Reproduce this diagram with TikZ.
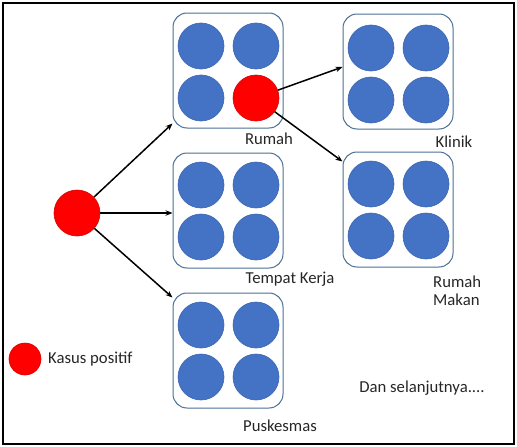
\documentclass[tikz,border=0pt]{standalone}
\usepackage{fontspec}
\setmainfont{Carlito}
\usetikzlibrary{arrows.meta}
\definecolor{cblue}{HTML}{4472C4}
\definecolor{cblueline}{HTML}{3A65B0}
\definecolor{boxline}{HTML}{4A6E94}
\definecolor{cred}{HTML}{FF0000}
\tikzset{
  person/.style={circle,fill=cblue,draw=cblueline,line width=0.6pt,minimum size=46pt,inner sep=0pt},
  infected/.style={circle,fill=cred,draw=red!85!black,line width=0.6pt,minimum size=46pt,inner sep=0pt},
  place/.style={draw=boxline,line width=1pt,rounded corners=14pt,minimum width=110pt,minimum height=115pt,inner sep=0pt},
  lbl/.style={font=\fontsize{16.7}{18}\selectfont,inner sep=0pt,text=black!85},
  spread/.style={line width=1.5pt,-{Stealth[length=7pt,width=5.5pt]}}
}
\begin{document}
\begin{tikzpicture}[x=1pt,y=-1pt]
\useasboundingbox (0,0) rectangle (517,447);
\draw[line width=1.6pt] (3,3) rectangle (514,444);
% boxes
\node[place] (rumah) at (228,70.5) {};
\node[place] (klinik) at (398,71.5) {};
\node[place] (kerja) at (228,210.5) {};
\node[place] (makan) at (398,209.5) {};
\node[place] (pusk) at (228,350.5) {};
% people in Rumah
\node[person] (r1) at (201,46) {};
\node[person] (r2) at (256,46) {};
\node[person] (r3) at (201,98) {};
\node[infected] (r4) at (256,98) {};
% Klinik
\node[person] (k1) at (371,48) {};
\node[person] (k2) at (426,48) {};
\node[person] (k3) at (371,100) {};
\node[person] (k4) at (426,100) {};
% Tempat Kerja
\node[person] (t1) at (201,185) {};
\node[person] (t2) at (256,185) {};
\node[person] (t3) at (201,237) {};
\node[person] (t4) at (256,237) {};
% Rumah Makan
\node[person] (m1) at (371,184) {};
\node[person] (m2) at (426,184) {};
\node[person] (m3) at (371,236) {};
\node[person] (m4) at (426,236) {};
% Puskesmas
\node[person] (p1) at (201,325) {};
\node[person] (p2) at (256,325) {};
\node[person] (p3) at (201,377) {};
\node[person] (p4) at (256,377) {};
% source case
\node[infected] (src) at (77,213) {};
% legend
\node[infected,minimum size=32pt] (legdot) at (25,359) {};
\node[lbl,anchor=west] (legtxt) at (48,359) {Kasus positif};
% labels
\node[lbl] (lrumah) at (269,139) {Rumah};
\node[lbl] (lklinik) at (454,142) {Klinik};
\node[lbl] (lkerja) at (290,279) {Tempat Kerja};
\node[lbl,anchor=west,align=left] (lmakan) at (433,291) {Rumah\\[0pt]Makan};
\node[lbl] (lpusk) at (280,426) {Puskesmas};
\node[lbl] (ldst) at (422,388) {Dan selanjutnya....};
% arrows
\draw[spread] (src) -- ([yshift=5pt]rumah.south west);
\draw[spread] (src) -- ([yshift=-2.5pt]kerja.west);
\draw[spread] (src) -- ([yshift=-5pt]pusk.north west);
\draw[spread] (r4) -- ([yshift=4.5pt]klinik.west);
\draw[spread] (r4) -- ([yshift=-10pt]makan.north west);
\end{tikzpicture}
\end{document}
